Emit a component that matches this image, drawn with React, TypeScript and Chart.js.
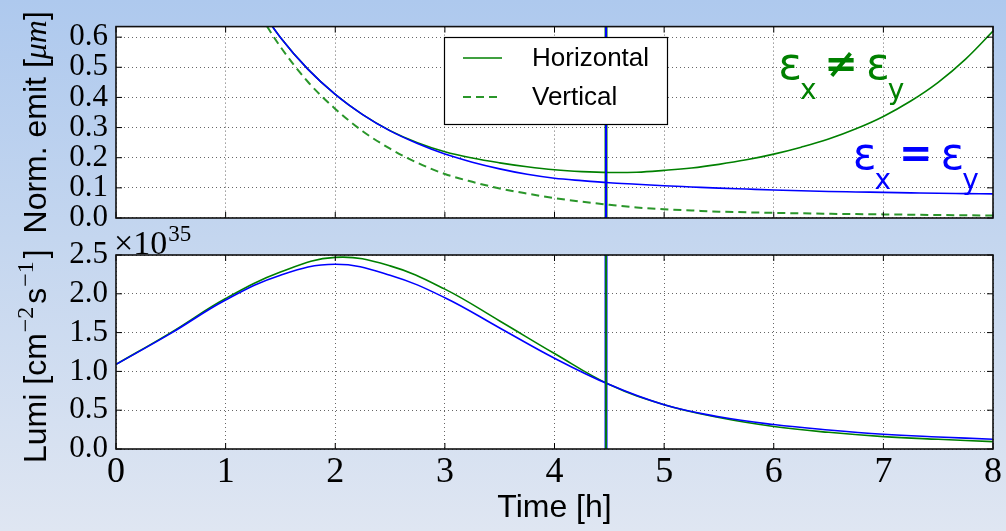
import { useEffect, useRef } from "react";
import { Chart, registerables } from "chart.js";

Chart.register(...registerables);

// ---------------- data ----------------
const TIME_EMIT = [1.25, 1.5, 1.75, 2.0, 2.25, 2.5, 2.75, 3.0, 3.25, 3.5, 3.75, 4.0, 4.25, 4.5, 4.75, 5.0, 5.25, 5.5, 5.75, 6.0, 6.25, 6.5, 6.75, 7.0, 7.25, 7.5, 7.75, 8.0];
const EMIT_HORIZONTAL = [0.729, 0.599, 0.494, 0.41, 0.343, 0.29, 0.25, 0.22, 0.199, 0.183, 0.17, 0.16, 0.154, 0.151, 0.152, 0.158, 0.166, 0.178, 0.193, 0.212, 0.235, 0.262, 0.296, 0.337, 0.388, 0.45, 0.527, 0.62];
const EMIT_VERTICAL = [0.71, 0.568, 0.452, 0.362, 0.288, 0.23, 0.183, 0.146, 0.12, 0.098, 0.081, 0.066, 0.054, 0.044, 0.035, 0.029, 0.025, 0.021, 0.019, 0.017, 0.0155, 0.014, 0.013, 0.012, 0.011, 0.01, 0.009, 0.008];
const EMIT_EQUAL = [0.729, 0.599, 0.494, 0.41, 0.343, 0.289, 0.247, 0.212, 0.185, 0.163, 0.145, 0.132, 0.124, 0.117, 0.112, 0.107, 0.103, 0.099, 0.096, 0.093, 0.0905, 0.088, 0.0865, 0.085, 0.0835, 0.082, 0.081, 0.08];

const TIME_LUMI = [0, 0.5, 1, 1.5, 2, 2.5, 3, 3.5, 4, 4.5, 5, 5.5, 6, 6.5, 7, 7.5, 8];
const LUMI_UNEQUAL = [1.09, 1.5, 1.94, 2.28, 2.47, 2.36, 2.06, 1.65, 1.23, 0.83, 0.57, 0.405, 0.29, 0.215, 0.16, 0.125, 0.095];
const LUMI_EQUAL = [1.09, 1.49, 1.92, 2.24, 2.38, 2.24, 1.95, 1.56, 1.17, 0.83, 0.57, 0.415, 0.315, 0.245, 0.19, 0.155, 0.125];

const T_MARK = 4.47;

const X_TICKS = [0, 1, 2, 3, 4, 5, 6, 7, 8];
const EMIT_TICKS = [0, 0.1, 0.2, 0.3, 0.4, 0.5, 0.6];
const LUMI_TICKS = [0, 0.5, 1.0, 1.5, 2.0, 2.5];
const X_MIN = 0;
const X_MAX = 8;
const EMIT_MAX = 0.635;
const LUMI_MAX = 2.5;

const LEGEND_LABELS = ["Horizontal", "Vertical"];

const GREEN = "#008000";
const DASH_GREEN = "#2a962a";
const BLUE = "#0000ff";

const ANNOTATIONS = [
  { op: "\u2260", color: GREEN, t: 6.04, v: 0.4615 },
  { op: "=", color: BLUE, t: 6.72, v: 0.1637 },
];

// ---------------- styles ----------------
const SERIF = "'Liberation Serif', 'DejaVu Serif', serif";
const SANS = "'Liberation Sans', Arial, 'DejaVu Sans', sans-serif";
const W = 1006;
const H = 531;

const gridOpts = { color: "rgba(0,0,0,0.6)", lineWidth: 1, drawTicks: false };
const borderOpts = { display: false, dash: [1, 3] };

function pts(xs: number[], ys: number[]) {
  return xs.map((x, i) => ({ x, y: ys[i] }));
}

type Part = { text: string; font: string; rise?: number; gap?: number };

function partsWidth(ctx: CanvasRenderingContext2D, parts: Part[]) {
  let w = 0;
  for (const p of parts) {
    ctx.font = p.font;
    w += ctx.measureText(p.text).width + (p.gap || 0);
  }
  return w;
}

// draws rotated (-90deg) text reading bottom-to-top, starting at (x, yStart)
function drawVertical(ctx: CanvasRenderingContext2D, parts: Part[], x: number, yStart: number) {
  ctx.save();
  ctx.translate(x, yStart);
  ctx.rotate(-Math.PI / 2);
  ctx.fillStyle = "#000";
  ctx.textBaseline = "alphabetic";
  ctx.textAlign = "left";
  let cx = 0;
  for (const p of parts) {
    ctx.font = p.font;
    ctx.fillText(p.text, cx, -(p.rise || 0));
    cx += ctx.measureText(p.text).width + (p.gap || 0);
  }
  ctx.restore();
}

function framePlugin(yTicks: number[]) {
  return {
    id: "frame",
    beforeDraw(chart: any) {
      const { ctx, chartArea: a } = chart;
      ctx.save();
      ctx.fillStyle = "#ffffff";
      ctx.fillRect(a.left, a.top, a.right - a.left, a.bottom - a.top);
      ctx.restore();
    },
    afterDraw(chart: any) {
      const { ctx, chartArea: a, scales } = chart;
      ctx.save();
      ctx.strokeStyle = "#000";
      ctx.lineWidth = 1;
      ctx.beginPath();
      for (const v of X_TICKS) {
        const px = scales.x.getPixelForValue(v);
        ctx.moveTo(px, a.bottom);
        ctx.lineTo(px, a.bottom - 6);
        ctx.moveTo(px, a.top);
        ctx.lineTo(px, a.top + 6);
      }
      for (const v of yTicks) {
        const py = scales.y.getPixelForValue(v);
        ctx.moveTo(a.left, py);
        ctx.lineTo(a.left + 6, py);
        ctx.moveTo(a.right, py);
        ctx.lineTo(a.right - 6, py);
      }
      ctx.stroke();
      ctx.lineWidth = 1.6;
      ctx.strokeStyle = "#111";
      ctx.strokeRect(a.left, a.top, a.right - a.left, a.bottom - a.top);
      ctx.restore();
    },
  };
}

const TITLE_SANS = `32px ${SANS}`;

const topOverlay = {
  id: "topOverlay",
  afterDraw(chart: any) {
    const { ctx, scales, chartArea: a } = chart;
    ctx.save();
    // y-axis title
    const title: Part[] = [
      { text: "Norm. emit [", font: TITLE_SANS },
      { text: "\u03bcm", font: `italic 32px ${SERIF}` },
      { text: "]", font: TITLE_SANS },
    ];
    const tw = partsWidth(ctx, title);
    drawVertical(ctx, title, 46, (a.top + a.bottom) / 2 + tw / 2);

    // legend
    const bx = 444, by = 37, bw = 223, bh = 87;
    ctx.fillStyle = "#fff";
    ctx.fillRect(bx, by, bw, bh);
    ctx.strokeStyle = "#000";
    ctx.lineWidth = 1.2;
    ctx.strokeRect(bx + 0.5, by + 0.5, bw, bh);
    const items = chart.data.datasets.filter((d: any) => LEGEND_LABELS.includes(d.label));
    items.forEach((d: any, i: number) => {
      const y = by + 21 + i * 39;
      ctx.strokeStyle = d.borderColor;
      ctx.lineWidth = d.borderWidth;
      ctx.setLineDash(d.borderDash || []);
      ctx.beginPath();
      ctx.moveTo(bx + 19, y);
      ctx.lineTo(bx + 58, y);
      ctx.stroke();
      ctx.setLineDash([]);
      ctx.fillStyle = "#000";
      ctx.font = `26px ${SANS}`;
      ctx.textBaseline = "middle";
      ctx.textAlign = "left";
      ctx.fillText(d.label, bx + 88, y + 1);
    });
    // annotations
    for (const an of ANNOTATIONS) {
      let x = scales.x.getPixelForValue(an.t);
      const y = scales.y.getPixelForValue(an.v);
      ctx.fillStyle = an.color;
      ctx.textBaseline = "alphabetic";
      ctx.textAlign = "left";
      const big = "44px 'DejaVu Sans', sans-serif";
      const sub = "28px 'DejaVu Sans', sans-serif";
      const op = "bold 40px 'DejaVu Sans', sans-serif";
      ctx.font = big;
      ctx.fillText("\u03b5", x, y);
      x += ctx.measureText("\u03b5").width - 2;
      ctx.font = sub;
      ctx.fillText("x", x, y + 20);
      x += ctx.measureText("x").width + 8;
      ctx.font = op;
      ctx.fillText(an.op, x, y - 2);
      x += ctx.measureText(an.op).width + 8;
      ctx.font = big;
      ctx.fillText("\u03b5", x, y);
      x += ctx.measureText("\u03b5").width - 2;
      ctx.font = sub;
      ctx.fillText("y", x, y + 20);
    }
    ctx.restore();
  },
};

const bottomOverlay = {
  id: "bottomOverlay",
  afterDraw(chart: any) {
    const { ctx, chartArea: a } = chart;
    ctx.save();
    // y-axis title
    const sup = `24px ${SERIF}`;
    const title: Part[] = [
      { text: "Lumi [cm", font: TITLE_SANS, gap: 1 },
      { text: "\u22122", font: sup, rise: 13, gap: 3 },
      { text: "s", font: TITLE_SANS, gap: 1 },
      { text: "\u22121", font: sup, rise: 13, gap: 3 },
      { text: "]", font: TITLE_SANS },
    ];
    drawVertical(ctx, title, 46, a.bottom + 14);

    // axis multiplier
    ctx.fillStyle = "#000";
    ctx.textBaseline = "alphabetic";
    ctx.textAlign = "left";
    ctx.font = `34px ${SERIF}`;
    const base = "\u00d710";
    ctx.fillText(base, a.left - 2, a.top - 1);
    const w = ctx.measureText(base).width;
    ctx.font = `23px ${SERIF}`;
    ctx.fillText("35", a.left - 2 + w + 1, a.top - 14);
    ctx.restore();
  },
};

function xScale(showLabels: boolean) {
  return {
    type: "linear" as const,
    min: X_MIN,
    max: X_MAX,
    afterBuildTicks: (s: any) => {
      s.ticks = X_TICKS.map((v) => ({ value: v }));
    },
    grid: gridOpts,
    border: borderOpts,
    ticks: {
      display: showLabels,
      autoSkip: false,
      color: "#000",
      padding: 2,
      maxRotation: 0,
      font: { family: SERIF, size: 36 },
      callback: (v: any) => String(v),
    },
    title: {
      display: showLabels,
      text: "Time [h]",
      color: "#000",
      font: { family: SANS, size: 32 },
      padding: { top: 0, bottom: 4 },
    },
    afterFit: (s: any) => {
      s.height = showLabels ? 82 : 0;
    },
  };
}

function yScale(max: number, ticks: number[]) {
  return {
    type: "linear" as const,
    min: 0,
    max,
    afterBuildTicks: (s: any) => {
      s.ticks = ticks.map((v) => ({ value: v }));
    },
    grid: gridOpts,
    border: borderOpts,
    ticks: {
      autoSkip: false,
      color: "#000",
      padding: 8,
      font: { family: SERIF, size: 31 },
      callback: (v: any) => Number(v).toFixed(1),
    },
    afterFit: (s: any) => {
      s.width = 116;
    },
  };
}

const monotone = {
  pointRadius: 0,
  cubicInterpolationMode: "monotone" as const,
  fill: false,
};
const smooth = { pointRadius: 0, tension: 0.4, fill: false };
const straight = { pointRadius: 0, tension: 0, fill: false };

export default function App() {
  const topRef = useRef<HTMLCanvasElement | null>(null);
  const botRef = useRef<HTMLCanvasElement | null>(null);

  useEffect(() => {
    if (!topRef.current || !botRef.current) return;
    const top = new Chart(topRef.current, {
      type: "line",
      data: {
        datasets: [
          { ...straight, label: "markBlue", data: [{ x: T_MARK, y: 0 }, { x: T_MARK, y: EMIT_MAX }], borderColor: BLUE, borderWidth: 2, order: 0 },
          { ...monotone, label: "Equal", data: pts(TIME_EMIT, EMIT_EQUAL), borderColor: BLUE, borderWidth: 1.6, order: 1 },
          { ...straight, label: "markGreen", data: [{ x: T_MARK, y: 0 }, { x: T_MARK, y: EMIT_MAX }], borderColor: GREEN, borderWidth: 3, order: 2 },
          { ...smooth, label: LEGEND_LABELS[0], data: pts(TIME_EMIT, EMIT_HORIZONTAL), borderColor: GREEN, borderWidth: 1.6, order: 3 },
          { ...monotone, label: LEGEND_LABELS[1], data: pts(TIME_EMIT, EMIT_VERTICAL), borderColor: DASH_GREEN, borderWidth: 2, borderDash: [8, 5], order: 4 },
        ],
      },
      options: {
        animation: false,
        responsive: false,
        events: [],
        layout: { padding: { top: 24, right: 13, bottom: 313, left: 0 } },
        plugins: { legend: { display: false }, tooltip: { enabled: false } },
        scales: {
          x: xScale(false),
          y: yScale(EMIT_MAX, EMIT_TICKS),
        },
      } as any,
      plugins: [framePlugin(EMIT_TICKS), topOverlay],
    });

    const bottom = new Chart(botRef.current, {
      type: "line",
      data: {
        datasets: [
          { ...straight, label: "markGreen", data: [{ x: T_MARK, y: 0 }, { x: T_MARK, y: LUMI_MAX }], borderColor: GREEN, borderWidth: 1.8, order: 0 },
          { ...smooth, label: "Equal", data: pts(TIME_LUMI, LUMI_EQUAL), borderColor: BLUE, borderWidth: 1.6, order: 1 },
          { ...smooth, label: "Unequal", data: pts(TIME_LUMI, LUMI_UNEQUAL), borderColor: GREEN, borderWidth: 1.6, order: 2 },
          { ...straight, label: "markBlue", data: [{ x: T_MARK, y: 0 }, { x: T_MARK, y: LUMI_MAX }], borderColor: BLUE, borderWidth: 3, order: 3 },
        ],
      },
      options: {
        animation: false,
        responsive: false,
        events: [],
        layout: { padding: { top: 255, right: 13, bottom: 0, left: 0 } },
        plugins: { legend: { display: false }, tooltip: { enabled: false } },
        scales: {
          x: xScale(true),
          y: yScale(LUMI_MAX, LUMI_TICKS),
        },
      } as any,
      plugins: [framePlugin(LUMI_TICKS), bottomOverlay],
    });

    return () => {
      top.destroy();
      bottom.destroy();
    };
  }, []);

  return (
    <div
      style={{
        position: "fixed",
        left: 0,
        top: 0,
        width: W,
        height: H,
        overflow: "hidden",
        background: "linear-gradient(to bottom, #aec9ee 0%, #c4d6ef 45%, #dfe6f2 100%)",
      }}
    >
      <canvas ref={botRef} width={W} height={H} style={{ position: "absolute", left: 0, top: 0 }} />
      <canvas ref={topRef} width={W} height={H} style={{ position: "absolute", left: 0, top: 0 }} />
    </div>
  );
}
